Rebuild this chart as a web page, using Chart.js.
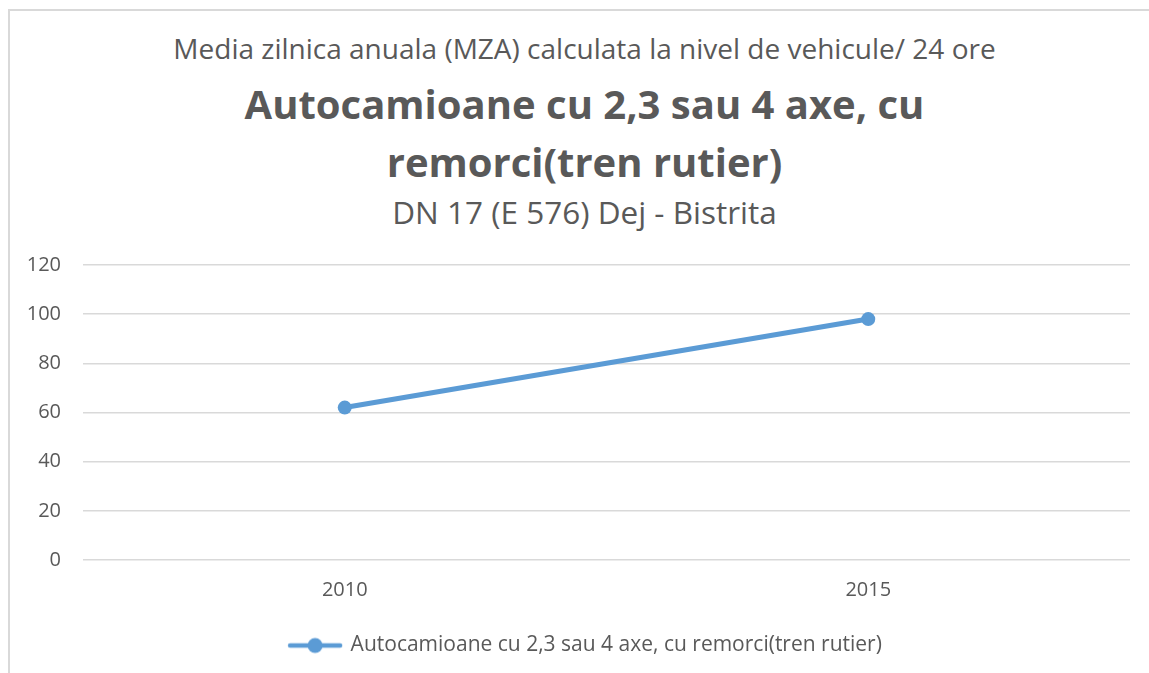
<!DOCTYPE html>
<html>
<head>
<meta charset="utf-8">
<script src="https://cdn.jsdelivr.net/npm/chart.js@4.4.0/dist/chart.umd.min.js"></script>
<style>
  html, body { margin: 0; padding: 0; background: #fff; }
  body { width: 1149px; height: 673px; position: relative; overflow: hidden; font-family: "Open Sans", sans-serif; }
  #frame { position: absolute; left: 8px; top: 9px; width: 1200px; height: 700px; border-left: 2px solid #d9d9d9; border-top: 2px solid #d9d9d9; box-sizing: border-box; }
  .t { position: absolute; left: 10px; width: 1149px; text-align: center; color: #595959; white-space: nowrap; }
  #t1 { top: 28px; font-size: 28px; line-height: 40px; }
  #t2 { top: 75px; font-size: 40px; font-weight: bold; line-height: 58px; }
  #t3 { top: 192px; font-size: 31.5px; line-height: 40px; }
  canvas { position: absolute; left: 0; top: 0; }
</style>
</head>
<body>
<div id="frame"></div>
<div class="t" id="t1">Media zilnica anuala (MZA) calculata la nivel de vehicule/ 24 ore</div>
<div class="t" id="t2">Autocamioane cu 2,3 sau 4 axe, cu<br>remorci(tren rutier)</div>
<div class="t" id="t3">DN 17 (E 576) Dej - Bistrita</div>
<canvas id="c" width="1149" height="673"></canvas>
<script>
const categories = ["2010", "2015"];
const seriesName = "Autocamioane cu 2,3 sau 4 axe, cu remorci(tren rutier)";
const seriesValues = [62, 98];
const yTicks = [0, 20, 40, 60, 80, 100, 120];

const lineColor = "#5b9bd5";
const textColor = "#595959";

// legend symbol: line with a dot
const sym = document.createElement("canvas");
sym.width = 56; sym.height = 18;
(function () {
  const g = sym.getContext("2d");
  g.strokeStyle = lineColor; g.lineWidth = 4.5; g.lineCap = "round";
  g.beginPath(); g.moveTo(3, 9); g.lineTo(53, 9); g.stroke();
  g.fillStyle = lineColor; g.beginPath(); g.arc(28, 9, 7.5, 0, Math.PI * 2); g.fill();
})();

// shift the legend horizontally so it is centred like the original
const legendShift = {
  id: "legendShift",
  afterLayout(chart) {
    if (chart.legend) { chart.legend.left += 21; chart.legend.right += 21; }
  }
};

new Chart(document.getElementById("c"), {
  type: "line",
  data: {
    labels: categories,
    datasets: [{
      label: seriesName,
      data: seriesValues,
      borderColor: lineColor,
      backgroundColor: lineColor,
      borderWidth: 5,
      pointRadius: 7,
      pointHoverRadius: 7,
      pointBackgroundColor: lineColor,
      pointBorderWidth: 0,
      tension: 0
    }]
  },
  plugins: [legendShift],
  options: {
    responsive: false,
    animation: false,
    events: [],
    layout: { padding: { top: 265, right: 19, left: 0, bottom: 7 } },
    plugins: {
      title: { display: false },
      tooltip: { enabled: false },
      legend: {
        position: "bottom",
        labels: {
          usePointStyle: true,
          pointStyleWidth: 50,
          color: textColor,
          font: { family: "Open Sans", size: 21 },
          padding: 23,
          generateLabels: (chart) => chart.data.datasets.map((ds, i) => ({
            text: ds.label, pointStyle: sym, fillStyle: lineColor, strokeStyle: lineColor,
            lineWidth: 0, hidden: false, datasetIndex: i, fontColor: textColor
          }))
        }
      }
    },
    scales: {
      x: {
        offset: true,
        grid: { display: false },
        border: { display: false },
        ticks: { color: textColor, font: { family: "Open Sans", size: 20 }, padding: 10 }
      },
      y: {
        min: 0, max: 120,
        afterFit: (s) => { s.width = 83; },
        afterBuildTicks: (s) => { s.ticks = yTicks.map(v => ({ value: v })); },
        grid: { color: "#d9d9d9", lineWidth: 1.5, drawTicks: false },
        border: { display: false },
        ticks: { color: textColor, font: { family: "Open Sans", size: 20 }, padding: 22 }
      }
    }
  }
});
</script>
</body>
</html>
